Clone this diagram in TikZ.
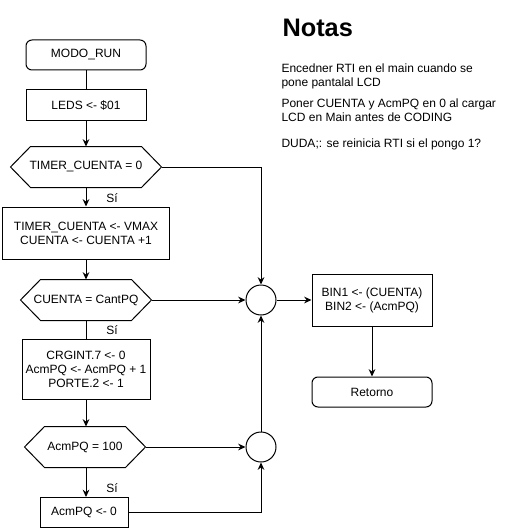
\documentclass[tikz,border=0pt]{standalone}
\usepackage{fontspec}
\setmainfont{Liberation Sans}
\usetikzlibrary{arrows.meta}
\begin{document}
\begin{tikzpicture}[x=0.75pt,y=-0.75pt,
  every node/.style={font=\fontsize{9}{10.5}\selectfont, inner sep=0pt},
  line width=0.75pt,
  >={Stealth[length=5.5pt,width=5pt]},
  proc/.style={draw, rectangle, align=center},
  term/.style={draw, rectangle, rounded corners=4.5pt, align=center},
  hexnode/.style={rectangle, align=center},
  junc/.style={draw, circle, minimum size=22.5pt},
  lbl/.style={font=\fontsize{9}{10.5}\selectfont},
  note/.style={anchor=base west, font=\fontsize{9}{10.5}\selectfont},
]
\useasboundingbox (0,0) rectangle (506,528);

% left column
\node[term, minimum width=90pt, minimum height=22.5pt] (modo) at (86,55) {MODO\_RUN};
\node[proc, minimum width=90pt, minimum height=22.5pt] (leds) at (86,105) {LEDS <- \$01};
\node[hexnode, minimum width=112.5pt, minimum height=30pt] (h1) at (86,167) {TIMER\_CUENTA = 0};
\node[proc, minimum width=125.25pt, minimum height=39pt] (b1) at (86,233) {TIMER\_CUENTA <- VMAX\\CUENTA <- CUENTA +1};
\node[hexnode, minimum width=97.5pt, minimum height=30pt] (h2) at (86,300) {CUENTA = CantPQ};
\node[proc, minimum width=96pt, minimum height=45pt] (b2) at (86,369) {CRGINT.7 <- 0\\AcmPQ <- AcmPQ + 1\\PORTE.2 <- 1};
\node[hexnode, minimum width=90pt, minimum height=30pt] (h3) at (85,447) {AcmPQ = 100};
\node[proc, minimum width=66pt, minimum height=22.5pt] (b3) at (84,512.5) {AcmPQ <- 0};

% hexagon outlines
\foreach \h in {h1,h2,h3}{
  \draw ([xshift=15pt]\h.north west) -- ([xshift=-15pt]\h.north east) -- (\h.east)
        -- ([xshift=-15pt]\h.south east) -- ([xshift=15pt]\h.south west) -- (\h.west) -- cycle;
}

% junctions
\node[junc] (c1) at (261,300) {};
\node[junc] (c2) at (261,447) {};

% right column
\node[proc, minimum width=90pt, minimum height=39pt] (bin) at (372,300) {BIN1 <- (CUENTA)\\BIN2 <- (AcmPQ)};
\node[term, minimum width=90pt, minimum height=22.5pt] (ret) at (372,392) {Retorno};

% labels
\node[lbl] (s1) at (112,198) {Sí};
\node[lbl] (s2) at (112,330) {Sí};
\node[lbl] (s3) at (112,488) {Sí};

% notes
\node[anchor=base west, font=\fontsize{19}{21}\selectfont\bfseries] (notas) at (282,36.7) {Notas};
\node[note] (n1) at (281,72.7) {Encedner RTI en el main cuando se};
\node[note] (n2) at (281,86) {pone pantalal LCD};
\node[note] (n3) at (281,107.7) {Poner CUENTA y AcmPQ en 0 al cargar};
\node[note] (n4) at (281,121) {LCD en Main antes de CODING};
\node[note] (n5) at (281,147.7) {DUDA;: se reinicia RTI si el pongo 1?};

% connectors
\draw (modo) -- (leds);
\draw[->] (leds.south) -- (leds.south |- h1.north);
\draw[->] (h1.south) -- (h1.south |- b1.north);
\draw[->] (b1.south) -- (b1.south |- h2.north);
\draw (h2.south) -- (h2.south |- b2.north);
\draw[->] (b2.south) -- (b2.south |- h3.north);
\draw[->] (b2.south |- h3.south) -- (b2.south |- b3.north);
\draw[->] (h1.east) -| (c1.north);
\draw[->] (h2.east) -- (c1.west);
\draw[->] (h3.east) -- (c2.west);
\draw[->] (b3.east) -| (c2.south);
\draw[->] (c2.north) -- (c1.south);
\draw[->] (c1.east) -- (bin.west);
\draw[->] (bin.south) -- (ret.north);
\end{tikzpicture}
\end{document}
